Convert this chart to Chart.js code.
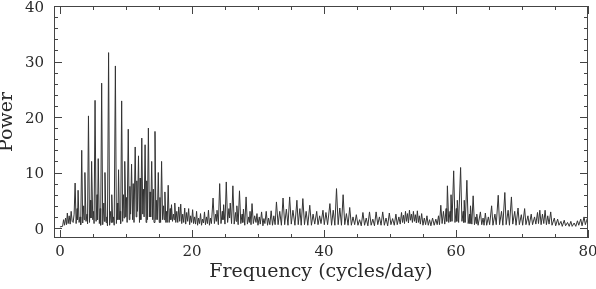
<!DOCTYPE html>
<html><head><meta charset="utf-8">
<script src="https://cdn.jsdelivr.net/npm/chart.js@4"></script>
<style>html,body{margin:0;padding:0;background:#fff}canvas{display:block}</style>
</head><body>
<canvas id="c" width="596" height="289"></canvas>
<script>
// Frequency (cycles/day) of each vertex of the periodogram trace
const freq = [
0.0,0.4,0.55,0.7,0.85,1.0,1.12,1.25,1.4,1.55,1.7,1.85,2.0,
2.15,2.3,2.45,2.6,2.67,2.75,2.9,3.05,3.15,3.3,3.45,3.6,3.68,3.78,3.95,
4.1,4.18,4.32,4.48,4.62,4.7,4.8,4.97,5.1,5.17,5.32,5.48,5.62,5.7,5.8,5.97,
6.1,6.17,6.32,6.48,6.65,6.73,6.82,6.98,7.1,7.2,7.37,7.52,7.7,7.77,7.85,8.0,
8.12,8.22,8.4,8.55,8.7,8.78,8.88,9.02,9.12,9.2,9.35,9.5,9.62,9.72,9.82,9.98,
10.08,10.18,10.35,10.5,10.6,10.7,10.85,11.0,11.1,11.22,11.4,11.55,11.65,11.75,11.9,
12.05,12.15,12.25,12.4,12.55,12.65,12.75,12.9,13.05,13.15,13.25,13.4,13.55,13.65,13.75,13.9,
14.05,14.15,14.25,14.4,14.55,14.65,14.75,14.9,15.05,15.15,15.25,15.4,15.55,15.7,15.8,15.9,
16.05,16.15,16.25,16.4,16.55,16.7,16.8,16.9,17.05,17.2,17.3,17.4,17.55,17.7,
17.85,18.0,18.15,18.3,18.45,18.6,18.75,18.9,19.05,19.2,19.35,19.5,19.65,19.8,19.95,
20.1,20.25,20.4,20.55,20.7,20.85,21.0,21.15,21.3,21.45,21.6,21.75,21.9,22.05,22.2,22.35,22.5,22.65,22.8,22.95,
23.2,23.4,23.6,23.7,23.8,24.0,24.2,24.4,24.6,24.7,24.8,25.0,25.2,25.4,25.6,25.7,25.8,26.0,
26.2,26.4,26.6,26.7,26.8,27.0,27.2,27.4,27.6,27.7,27.8,28.0,28.2,28.4,28.6,28.7,28.8,28.95,
29.1,29.3,29.5,29.7,29.85,30.0,30.2,30.35,30.55,30.75,30.9,31.05,31.25,31.45,31.6,31.8,32.0,32.2,32.4,32.6,
32.8,33.05,33.3,33.55,33.8,34.05,34.3,34.55,34.8,35.05,35.3,35.6,35.9,36.1,36.35,36.55,36.8,37.05,
37.3,37.55,37.85,38.1,38.35,38.6,38.9,39.1,39.35,39.55,39.85,40.05,40.3,40.55,
40.9,41.15,41.4,41.65,41.9,42.15,42.4,42.65,42.9,43.15,43.4,43.65,43.9,44.15,44.4,44.65,
44.9,45.15,45.4,45.65,45.9,46.15,46.4,46.65,46.9,47.15,47.4,47.65,47.9,48.15,48.4,48.65,48.9,49.15,49.4,49.65,
49.9,50.15,50.4,50.65,50.9,51.1,51.35,51.55,51.75,51.9,52.05,52.2,52.35,52.5,52.65,52.8,52.95,53.1,53.25,53.4,
53.55,53.7,53.85,54.0,54.15,54.3,54.45,54.6,54.8,55.0,55.2,55.4,55.6,55.8,56.0,56.2,56.45,56.7,56.95,57.15,
57.35,57.5,57.7,57.9,58.1,58.3,58.5,58.6,58.7,58.9,59.1,59.18,59.25,59.4,59.65,59.85,60.05,60.12,60.2,60.4,
60.7,60.9,61.1,61.18,61.25,61.4,61.65,61.85,62.05,62.12,62.2,62.4,62.6,62.8,63.0,63.08,63.15,63.35,63.7,63.9,
64.1,64.25,64.45,64.65,64.9,65.1,65.4,65.6,65.9,66.1,66.4,66.6,66.9,67.1,67.4,67.6,67.9,68.1,68.4,68.6,
68.9,69.1,69.4,69.6,69.9,70.1,70.4,70.6,70.9,71.1,71.4,71.6,71.9,72.1,72.35,72.5,72.7,72.9,73.1,73.3,
73.5,73.7,73.9,74.1,74.35,74.55,74.9,75.1,75.4,75.6,75.9,76.1,76.4,76.6,76.9,77.15,77.4,77.6,77.9,78.15,78.4,78.6,78.9,79.1,79.4,79.6,79.8,80.0
];
// Power at each vertex
const power = [
0.2,0.3,1.5,0.5,1.8,0.6,2.7,0.8,2.2,0.7,3.0,1.2,1.0,
2.5,8.1,0.8,3.5,1.5,6.8,1.0,2.0,0.6,14.0,0.9,4.0,1.5,10.0,1.2,
2.5,0.8,20.2,1.0,5.0,1.8,12.0,1.5,3.0,0.8,23.0,1.2,6.0,1.5,12.5,0.8,
3.5,0.5,26.1,0.6,4.5,1.2,10.0,1.0,2.0,0.4,31.6,0.5,3.0,1.0,6.0,1.0,
2.0,0.5,29.2,0.8,4.5,1.5,10.5,1.5,3.0,0.8,22.9,1.2,6.0,1.8,12.0,2.0,
5.5,1.0,17.8,1.5,7.5,2.5,11.5,1.5,8.0,1.0,14.6,2.0,8.5,3.0,13.0,
1.0,9.0,1.5,16.2,2.5,7.0,2.0,15.0,1.0,8.5,1.5,18.0,2.0,6.5,2.0,12.0,
1.5,7.0,1.0,17.4,1.5,5.0,1.5,10.0,1.0,5.5,1.0,12.0,1.5,4.0,1.5,6.5,
1.0,3.0,1.0,7.7,1.0,3.5,1.5,4.2,1.2,2.5,1.5,4.5,1.0,3.0,
1.0,3.8,1.2,4.3,0.8,2.5,1.0,3.6,0.7,2.8,1.2,3.5,0.6,2.2,1.0,
3.3,0.8,2.0,0.7,3.0,0.5,1.8,0.8,2.6,0.5,1.6,0.9,2.9,0.6,2.0,0.8,3.2,0.5,1.8,0.8,
5.4,0.8,2.5,1.2,3.2,0.6,8.0,0.8,3.0,1.5,4.2,0.7,8.3,1.0,3.5,1.8,4.5,0.8,
7.6,0.7,2.8,1.2,4.0,0.6,6.7,0.8,2.5,1.0,3.4,0.5,5.6,0.7,2.0,1.0,3.0,0.6,
4.4,0.8,2.2,1.0,2.6,0.5,2.0,0.7,2.9,0.4,1.7,0.8,3.0,0.5,1.8,0.6,3.1,0.5,2.2,0.6,
4.7,0.6,3.0,0.5,5.4,0.6,3.4,0.5,5.6,0.7,3.2,0.5,5.0,0.6,3.5,0.5,5.3,0.6,
3.0,0.5,4.1,0.5,2.5,0.7,3.0,0.6,2.2,0.8,3.2,0.6,2.8,0.6,
4.4,0.5,3.2,0.5,7.1,0.6,3.6,0.5,6.0,0.6,2.6,0.5,3.7,0.5,2.0,0.6,
2.4,0.5,1.5,0.4,2.8,0.5,1.8,0.4,2.9,0.5,1.6,0.4,2.9,0.6,2.0,0.5,2.9,0.5,1.8,0.4,
2.7,0.6,1.7,0.5,2.5,0.6,2.0,0.7,2.8,1.0,2.3,0.8,3.0,1.2,2.6,0.9,3.2,1.4,2.5,1.0,
3.0,1.2,2.4,0.9,3.1,1.0,2.2,0.7,2.6,0.5,1.8,0.6,2.2,0.5,1.5,0.4,1.8,0.5,1.6,0.6,
2.2,0.6,4.1,0.8,3.0,0.7,3.5,1.2,7.6,1.0,3.0,1.2,6.0,1.2,10.3,1.0,3.5,1.2,5.0,1.0,
10.9,1.2,3.0,1.0,5.0,1.0,8.6,0.8,2.5,0.8,4.0,0.7,5.8,0.6,2.0,0.8,2.5,0.5,2.9,0.6,
1.8,0.5,2.7,0.5,2.0,0.6,4.0,0.5,2.5,0.6,5.9,0.6,3.0,0.5,6.4,0.6,3.2,0.5,5.6,0.7,
3.0,0.5,3.6,0.6,2.4,0.5,3.5,0.6,2.2,0.5,2.5,0.6,2.0,0.7,2.8,0.8,3.2,0.6,2.5,0.8,
3.2,0.6,2.2,0.7,2.9,0.5,1.8,0.4,1.6,0.5,1.2,0.3,1.4,0.4,1.0,0.3,1.2,0.3,0.9,0.3,1.3,0.5,1.6,0.4,2.0,0.6,1.4,2.0
];
const xTickValues = [0, 20, 40, 60, 80];
const yTickValues = [0, 10, 20, 30, 40];
const xTitle = 'Frequency (cycles/day)';
const yTitle = 'Power';

if (freq.length !== power.length) console.error('length mismatch', freq.length, power.length);

const INK = '#2a2a2a';
const SERIF = "'DejaVu Serif', 'Liberation Serif', serif";

const frameTicks = {
  id: 'frameTicks',
  afterDraw(chart) {
    const {ctx, chartArea: a, scales: {x, y}} = chart;
    ctx.save();
    ctx.strokeStyle = '#444';
    ctx.lineWidth = 1;
    ctx.strokeRect(a.left + 0.5, a.top + 0.5, a.right - a.left - 1, a.bottom - a.top - 1);
    ctx.beginPath();
    const major = 8, minor = 4;
    for (let v = 0; v <= 80; v += 5) {
      const px = Math.round(x.getPixelForValue(v)) + 0.5;
      const len = xTickValues.includes(v) ? major : minor;
      ctx.moveTo(px, a.bottom); ctx.lineTo(px, a.bottom - len);
      ctx.moveTo(px, a.top); ctx.lineTo(px, a.top + len);
    }
    for (let v = 0; v <= 40; v += 2) {
      const py = Math.round(y.getPixelForValue(v)) + 0.5;
      const len = yTickValues.includes(v) ? major : minor;
      ctx.moveTo(a.left, py); ctx.lineTo(a.left + len, py);
      ctx.moveTo(a.right, py); ctx.lineTo(a.right - len, py);
    }
    ctx.stroke();
    ctx.restore();
  }
};

new Chart(document.getElementById('c'), {
  type: 'scatter',
  data: {
    datasets: [{
      data: freq.map((f, i) => ({x: f, y: power[i]})),
      showLine: true,
      borderColor: '#333',
      borderWidth: 1,
      pointRadius: 0,
      tension: 0
    }]
  },
  options: {
    responsive: false,
    animation: false,
    devicePixelRatio: 1,
    layout: {padding: {top: 6, right: 8, left: 0, bottom: 0}},
    plugins: {legend: {display: false}, tooltip: {enabled: false}},
    scales: {
      x: {
        type: 'linear', min: -0.9, max: 80,
        grid: {display: false, drawTicks: false},
        border: {display: false},
        afterBuildTicks: s => { s.ticks = xTickValues.map(v => ({value: v})); },
        afterFit: s => { s.height = 51; s.paddingLeft = 0; s.paddingRight = 0; },
        ticks: {padding: 5, color: INK, font: {family: SERIF, size: 15}, maxRotation: 0, autoSkip: false},
        title: {display: true, text: xTitle, color: INK, font: {family: SERIF, size: 19}, padding: {top: 0, bottom: 6}}
      },
      y: {
        type: 'linear', min: -1.8, max: 40,
        grid: {display: false, drawTicks: false},
        border: {display: false},
        afterBuildTicks: s => { s.ticks = yTickValues.map(v => ({value: v})); },
        afterFit: s => { s.width = 54; s.paddingTop = 0; s.paddingBottom = 0; },
        ticks: {padding: 10, labelOffset: 2, color: INK, font: {family: SERIF, size: 15}, autoSkip: false},
        title: {display: true, text: yTitle, color: INK, font: {family: SERIF, size: 19, lineHeight: 1}, padding: {top: -2, bottom: 0}}
      }
    }
  },
  plugins: [frameTicks]
});
</script>
</body></html>
